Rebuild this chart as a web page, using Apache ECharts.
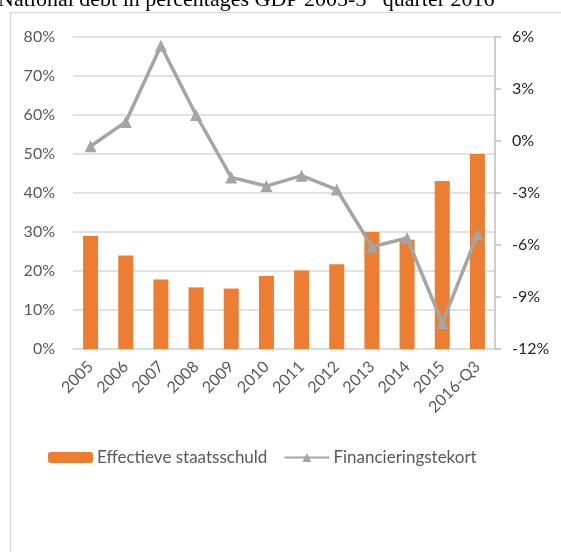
<!DOCTYPE html>
<html>
<head>
<meta charset="utf-8">
<script src="https://cdn.jsdelivr.net/npm/echarts@6/dist/echarts.min.js"></script>
<style>
  html, body { margin: 0; padding: 0; background: #fff; }
  #chart { width: 561px; height: 552px; }
</style>
</head>
<body>
<div id="chart"></div>
<script>
// jaren / kwartaal
var categories = ["2005", "2006", "2007", "2008", "2009", "2010", "2011", "2012", "2013", "2014", "2015", "2016-Q3"];
// effectieve staatsschuld (% BBP)
var schuld = [29, 24, 17.8, 15.8, 15.5, 18.7, 20.1, 21.7, 30, 28, 43.1, 50];
// financieringstekort (% BBP)
var tekort = [-0.3, 1.1, 5.5, 1.5, -2.1, -2.6, -2.0, -2.8, -6.1, -5.6, -10.5, -5.4];
var leftTicks = [0, 80, 10];
var rightTicks = [-12, 6, 3];

var chart = echarts.init(document.getElementById("chart"));
var font = "Lato, 'Open Sans', sans-serif";

chart.setOption({
  animation: false,
  title: {
    text: "National debt in percentages GDP 2005-3{s|rd} quarter 2016",
    left: -2,
    top: -11,
    padding: 0,
    textStyle: {
      fontFamily: "'Liberation Serif', serif",
      fontSize: 22,
      fontWeight: "normal",
      color: "#000",
      rich: { s: { fontFamily: "'Liberation Serif', serif", fontSize: 13, verticalAlign: "top", color: "#000" } }
    }
  },
  graphic: [{
    type: "rect",
    left: 8,
    top: 10,
    shape: { width: 600, height: 600 },
    style: { fill: "none", stroke: "#d9d9d9", lineWidth: 1.5 },
    z: -10
  }],
  grid: { left: 73, right: 66, top: 37, bottom: 203 },
  legend: {
    left: 43,
    top: 444,
    itemGap: 16,
    itemWidth: 45,
    itemHeight: 11,
    textStyle: { fontFamily: font, fontSize: 17, color: "#595959", padding: [0, 0, 0, -1] },
    data: ["Effectieve staatsschuld", "Financieringstekort"]
  },
  xAxis: {
    type: "category",
    data: categories,
    axisLine: { lineStyle: { color: "#d9d9d9", width: 1.5 } },
    axisTick: { show: false },
    axisLabel: { rotate: 45, margin: 15, fontFamily: font, fontSize: 16, color: "#595959", interval: 0 }
  },
  yAxis: [{
    type: "value",
    min: leftTicks[0],
    max: leftTicks[1],
    interval: leftTicks[2],
    axisLine: { show: false },
    axisTick: { show: false },
    axisLabel: { formatter: "{value}%", margin: 18, fontFamily: font, fontSize: 16, color: "#595959" },
    splitLine: { lineStyle: { color: "#d9d9d9", width: 1.5 } }
  }, {
    type: "value",
    position: "right",
    min: rightTicks[0],
    max: rightTicks[1],
    interval: rightTicks[2],
    axisLine: { show: true, lineStyle: { color: "#bfbfbf", width: 1.5 } },
    axisTick: { show: true, inside: false, length: 6, lineStyle: { color: "#bfbfbf", width: 1.5 } },
    axisLabel: { formatter: "{value}%", margin: 17, fontFamily: font, fontSize: 16, color: "#262626" },
    splitLine: { show: false }
  }],
  series: [{
    name: "Effectieve staatsschuld",
    type: "bar",
    yAxisIndex: 0,
    barWidth: 15,
    itemStyle: { color: "#ed7d31" },
    data: schuld
  }, {
    name: "Financieringstekort",
    type: "line",
    yAxisIndex: 1,
    symbol: "triangle",
    symbolSize: 12,
    lineStyle: { color: "#a5a5a5", width: 3.5 },
    itemStyle: { color: "#a5a5a5" },
    data: tekort
  }]
});
</script>
</body>
</html>
